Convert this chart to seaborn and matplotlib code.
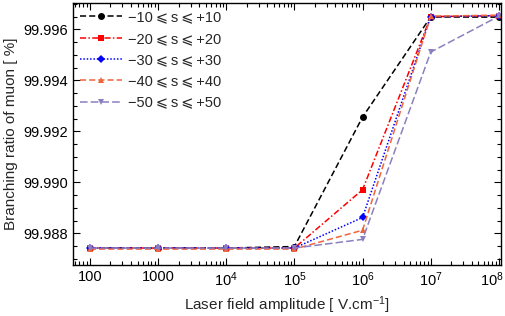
import numpy as np
import matplotlib
matplotlib.use("Agg")
import matplotlib.pyplot as plt
import matplotlib.ticker as mticker
import matplotlib.transforms as mtransforms
import seaborn as sns

sns.set_style("ticks", {'axes.edgecolor': 'black', 'xtick.color': 'black', 'ytick.color': 'black'})
plt.rcParams['font.family'] = ['Liberation Sans', 'DejaVu Sans']
plt.rcParams['mathtext.fontset'] = 'custom'
plt.rcParams['mathtext.rm'] = 'Liberation Sans'
plt.rcParams['mathtext.it'] = 'Liberation Sans'

field = [1e2, 1e3, 1e4, 1e5, 1e6, 1e7, 1e8]

br_10 = [99.98742, 99.98742, 99.98742, 99.98748, 99.99256, 99.99649, 99.99648]
br_20 = [99.98742, 99.98742, 99.98742, 99.98742, 99.98971, 99.99650, 99.99654]
br_30 = [99.98742, 99.98742, 99.98742, 99.98742, 99.98862, 99.99650, 99.99654]
br_40 = [99.98738, 99.98738, 99.98738, 99.98738, 99.98812, 99.99652, 99.99656]
br_50 = [99.98742, 99.98742, 99.98742, 99.98742, 99.98776, 99.99511, 99.99652]

labels = ["\u221210\u2009\u2a7d\u2009s\u2009\u2a7d\u2009+10",
          "\u221220\u2009\u2a7d\u2009s\u2009\u2a7d\u2009+20",
          "\u221230\u2009\u2a7d\u2009s\u2009\u2a7d\u2009+30",
          "\u221240\u2009\u2a7d\u2009s\u2009\u2a7d\u2009+40",
          "\u221250\u2009\u2a7d\u2009s\u2009\u2a7d\u2009+50"]
series = [br_10, br_20, br_30, br_40, br_50]
colors = ['black', '#ff0000', '#0000ff', '#f0643c', '#8a80c0']
markers = ['o', 's', 'D', '^', 'v']
msizes = [5, 4, 4.5, 5, 5]
styles = [(0, (4, 2)), (0, (4, 1.5, 1, 1.5)), (0, (1, 1.2)), (0, (4, 2)), (0, (5, 2))]

fig = plt.figure(figsize=(5.06, 3.16), dpi=100)
ax = fig.add_axes([0.144, 0.161, 0.846, 0.829])

for y, lab, c, m, ms, ls in zip(series, labels, colors, markers, msizes, styles):
    sns.lineplot(x=field, y=y, ax=ax, color=c, marker=m, markersize=ms,
                 markeredgewidth=0, linestyle=ls, linewidth=1.1, label=lab)

ax.set_xscale('log')
ax.set_xlim(10**1.75, 10**8.03)
ax.set_ylim(99.98675, 99.99703)
ax.set_xticks(field)
ax.set_xticklabels(['100', '1000', '$10^4$', '$10^5$', '$10^6$', '$10^7$', '$10^8$'])
ax.xaxis.set_minor_locator(mticker.LogLocator(base=10, subs=np.arange(2, 10), numticks=20))
ax.xaxis.set_minor_formatter(mticker.NullFormatter())
ax.set_yticks([99.988, 99.990, 99.992, 99.994, 99.996])
ax.yaxis.set_major_formatter(mticker.FormatStrFormatter('%.3f'))
ax.yaxis.set_minor_locator(mticker.MultipleLocator(0.0005))
ax.tick_params(which='both', direction='in', top=True, right=True, labelsize=10.5, width=0.8)
ax.tick_params(which='major', length=5)
ax.tick_params(which='minor', length=3)
for s in ax.spines.values():
    s.set_linewidth(1.0)

# keep the last tick label inside the figure, like the reference
last = ax.get_xticklabels()[-1]
last.set_transform(last.get_transform() + mtransforms.ScaledTranslation(-7 / 100, 0, fig.dpi_scale_trans))

ax.set_xlabel('Laser field amplitude [ V.cm$^{-1}$]', fontsize=11)
ax.set_ylabel('Branching ratio of muon [ %]', fontsize=11)

ax.legend(loc='upper left', frameon=False, fontsize=10.5, handlelength=2.9,
          labelspacing=0.5, borderaxespad=0.1, handletextpad=0.4)

fig.savefig('out.png', dpi=100)
